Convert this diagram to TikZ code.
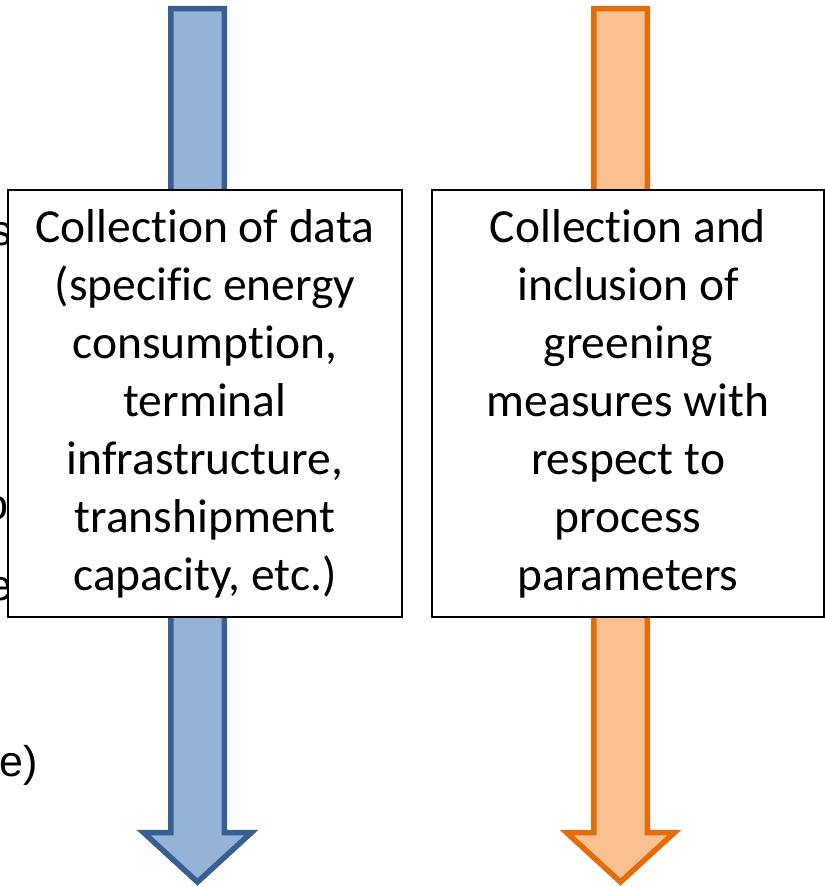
\documentclass[tikz,border=0pt]{standalone}
\usepackage{fontspec}
\setmainfont{Carlito}[RawFeature={-liga;-clig;-dlig}]
\newfontfamily\sidefont{Liberation Sans}

\definecolor{shaftBlue}{HTML}{95B3D7}
\definecolor{edgeBlue}{HTML}{376092}
\definecolor{shaftOrange}{HTML}{FAC090}
\definecolor{edgeOrange}{HTML}{E46C0A}

% keeps letter pairs such as t-i and f-i as separate glyphs
\newcommand{\nolig}{\kern0pt\relax}

\tikzset{
  flowarrow/.style={line width=5.5pt, line join=miter, miter limit=10},
  infobox/.style={draw=black, line width=1.3pt, fill=white, rectangle,
    align=center, inner sep=0pt,
    font=\fontsize{47.5}{58}\selectfont},
  sidetext/.style={inner sep=0pt, anchor=base west,
    font=\sidefont\fontsize{43}{50}\selectfont},
}

% downward block arrow centred on x = #1
\newcommand{\blockarrow}[2]{%
  \draw[flowarrow, #2]
    ({#1-26.75},8.5) -- ({#1+26.75},8.5) -- ({#1+26.75},832.5)
    -- ({#1+54},832.5) -- ({#1},882) -- ({#1-54},832.5)
    -- ({#1-26.75},832.5) -- cycle;}

\begin{document}
\begin{tikzpicture}[x=1pt,y=-1pt]
  \useasboundingbox (0,0) rectangle (825,887);

  % text running in from the left margin, mostly hidden by the first box
  \node[sidetext] (fragS) at (-10,245) {s};
  \node[sidetext] (fragO) at (-15.5,519) {o};
  \node[sidetext] (fragE) at (-12,600) {e};
  \node[sidetext] (fragEP) at (-1,776) {e)};

  % the two block arrows
  \blockarrow{197.5}{fill=shaftBlue, draw=edgeBlue}
  \blockarrow{620.5}{fill=shaftOrange, draw=edgeOrange}

  % boxes in front of the arrows
  \node[infobox, minimum width=394pt, minimum height=427pt] (dataBox) at (205,403.5)
    {Collect\nolig ion of data\\(specif\nolig ic energy\\consumpt\nolig ion,\\terminal\\infrastructure,\\transhipment\\capacity, etc.)};
  \node[infobox, minimum width=392pt, minimum height=427pt] (greenBox) at (628,403.5)
    {Collect\nolig ion and\\inclusion of\\greening\\measures with\\respect to\\process\\parameters};
\end{tikzpicture}
\end{document}
